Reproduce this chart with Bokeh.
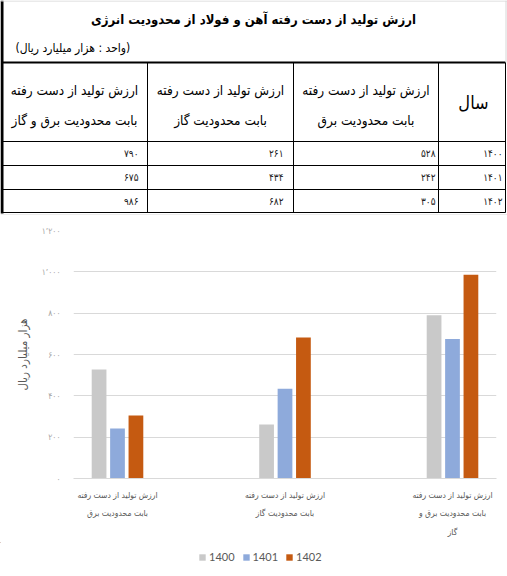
from bokeh.plotting import figure
from bokeh.models import Range1d, FixedTicker, Legend, LegendItem
from bokeh.core.properties import value
from bokeh.embed import file_html
from bokeh.resources import INLINE

# ---------------- data ----------------
title_text = "ارزش تولید از دست رفته آهن و فولاد از محدودیت انرژی"
unit_text = "(واحد : هزار میلیارد ریال)"
year_header = "سال"
years = ["1400", "1401", "1402"]
col_header_line1 = ["ارزش تولید از دست رفته", "ارزش تولید از دست رفته", "ارزش تولید از دست رفته"]
col_header_line2 = ["بابت محدودیت برق", "بابت محدودیت گاز", "بابت محدودیت برق و گاز"]
chart_labels = [
    "ارزش تولید از دست رفته\nبابت محدودیت برق",
    "ارزش تولید از دست رفته\nبابت محدودیت گاز",
    "ارزش تولید از دست رفته\nبابت محدودیت برق و\nگاز",
]
loss_1400 = [528, 261, 790]
loss_1401 = [242, 434, 675]
loss_1402 = [305, 682, 986]
y_ticks = [0, 200, 400, 600, 800, 1000, 1200]
y_tick_labels = ["۰", "۲۰۰", "۴۰۰", "۶۰۰", "۸۰۰", "۱٬۰۰۰", "۱٬۲۰۰"]
y_title = "هزار میلیارد ریال"
series_colors = ["#c9c9c9", "#8eaadb", "#c55a11"]

FA = str.maketrans("0123456789", "۰۱۲۳۴۵۶۷۸۹")
def fa(v):
    return str(v).translate(FA)

FONT_NAME = "'DejaVu Sans Condensed', 'DejaVu Sans'"
FONT = value(FONT_NAME)

# ---------------- layout constants (page pixels) ----------------
W = 507
TABLE_H = 215
CHART_BOTTOM = 542
LEG_H = 576 - CHART_BOTTOM
CH = CHART_BOTTOM - TABLE_H

# ---------------- table figure ----------------
t = figure(width=W, height=TABLE_H, x_range=Range1d(0, W), y_range=Range1d(TABLE_H, 0),
           output_backend="svg", toolbar_location=None,
           min_border_left=0, min_border_right=0, min_border_top=0, min_border_bottom=0,
           x_axis_location=None, y_axis_location=None)
t.grid.visible = False
t.outline_line_color = None

col_edges = [1, 147, 293, 438, 505]
row_edges = [62, 141, 165, 189, 212]
t.segment(x0=[col_edges[0]] * len(row_edges), x1=[col_edges[-1]] * len(row_edges),
          y0=row_edges, y1=row_edges, line_color="black", line_width=1)
t.segment(x0=[col_edges[0]], x1=[col_edges[-1]], y0=[62], y1=[62], line_color="black", line_width=2)
t.segment(x0=col_edges, x1=col_edges, y0=[row_edges[0]] * len(col_edges),
          y1=[row_edges[-1]] * len(col_edges), line_color="black", line_width=1)
t.segment(x0=[1.5], x1=[1.5], y0=[0], y1=[213], line_color="black", line_width=3)
t.segment(x0=[0, 505.5, 0], x1=[507, 505.5, 507], y0=[0.5, 0, 214.5], y1=[0.5, 62, 214.5],
          line_color="#d6d6d6", line_width=1)

t.text(x=[253], y=[19], text=[title_text], text_font=FONT, text_font_style="bold",
       text_font_size="13px", text_align="center", text_baseline="middle", text_color="black")
t.text(x=[15], y=[47], text=[unit_text], text_font=FONT, text_font_size="12px",
       text_align="left", text_baseline="middle", text_color="black")

t.text(x=[473], y=[102], text=[year_header], text_font=FONT, text_font_size="18px",
       text_align="center", text_baseline="middle", text_color="black")
cat_centers = [(col_edges[3] + col_edges[2]) / 2, (col_edges[2] + col_edges[1]) / 2,
               (col_edges[1] + col_edges[0]) / 2]
t.text(x=cat_centers, y=[89] * 3, text=col_header_line1, text_font=FONT, text_font_size="13.5px",
       text_align="center", text_baseline="middle", text_color="black")
t.text(x=cat_centers, y=[119] * 3, text=col_header_line2, text_font=FONT, text_font_size="13.5px",
       text_align="center", text_baseline="middle", text_color="black")

row_centers = [(row_edges[i] + row_edges[i + 1]) / 2 for i in range(1, 4)]
series = [loss_1400, loss_1401, loss_1402]
t.text(x=[col_edges[4] - 3] * 3, y=row_centers, text=[fa(y) for y in years], text_font=FONT,
       text_font_size="10px", text_align="right", text_baseline="middle", text_color="#222222")
cat_right = [col_edges[3] - 3, col_edges[2] - 10, col_edges[1] - 9]
for ci in range(3):
    t.text(x=[cat_right[ci]] * 3, y=row_centers, text=[fa(s[ci]) for s in series], text_font=FONT,
           text_font_size="10px", text_align="right", text_baseline="middle", text_color="#222222")

# ---------------- chart figure ----------------
frame_left, frame_right = 73, 496
frame_top, frame_bottom = 230 - TABLE_H, 478 - TABLE_H

c = figure(width=W, height=CH, x_range=Range1d(-0.2627, 2.2627), y_range=Range1d(0, 1200),
           output_backend="svg", toolbar_location=None,
           min_border_left=frame_left, min_border_right=W - frame_right,
           min_border_top=frame_top, min_border_bottom=CH - frame_bottom)
c.outline_line_color = None
c.xgrid.visible = False
c.ygrid.ticker = FixedTicker(ticks=y_ticks)
c.ygrid.grid_line_color = "#d9d9d9"

offsets = [-0.11, 0.0, 0.11]
bar_width = 0.088
renderers = []
for si, s in enumerate(series):
    xs = [i + offsets[si] for i in range(len(s))]
    r = c.vbar(x=xs, top=s, width=bar_width, fill_color=series_colors[si], line_color=None)
    renderers.append(r)

c.yaxis.ticker = FixedTicker(ticks=y_ticks)
c.yaxis.major_label_overrides = {k: v for k, v in zip(y_ticks, y_tick_labels)}
c.yaxis.axis_line_color = None
c.yaxis.major_tick_line_color = None
c.yaxis.minor_tick_line_color = None
c.yaxis.major_label_text_font = FONT_NAME
c.yaxis.major_label_text_font_size = "8.5px"
c.yaxis.major_label_text_color = "#a6a6a6"
c.yaxis.major_label_standoff = 7
c.yaxis.axis_label = y_title
c.yaxis.axis_label_text_font = FONT_NAME
c.yaxis.axis_label_text_font_size = "11.5px"
c.yaxis.axis_label_text_font_style = "normal"
c.yaxis.axis_label_text_color = "#595959"
c.yaxis.axis_label_standoff = 9

c.xaxis.ticker = FixedTicker(ticks=[0, 1, 2])
c.xaxis.major_label_overrides = {i: lab for i, lab in enumerate(chart_labels)}
c.xaxis.axis_line_color = "#d9d9d9"
c.xaxis.major_tick_line_color = None
c.xaxis.minor_tick_line_color = None
c.xaxis.major_label_text_font = FONT_NAME
c.xaxis.major_label_text_font_size = "8.5px"
c.xaxis.major_label_text_color = "#595959"
c.xaxis.major_label_text_line_height = 1.85
c.xaxis.major_label_standoff = 5

# ---------------- legend strip ----------------
lg = figure(width=W, height=LEG_H, x_range=Range1d(1000, 1001), y_range=Range1d(-2000, -1999),
            output_backend="svg", toolbar_location=None,
            min_border_left=0, min_border_right=0, min_border_top=0, min_border_bottom=0,
            x_axis_location=None, y_axis_location=None)
lg.grid.visible = False
lg.outline_line_color = None
leg_renderers = []
for si, s in enumerate(series):
    xs = [i + offsets[si] for i in range(len(s))]
    leg_renderers.append(lg.vbar(x=xs, top=s, width=bar_width, fill_color=series_colors[si],
                                 line_color=None))
legend = Legend(items=[LegendItem(label=y, renderers=[r]) for y, r in zip(years, leg_renderers)],
                orientation="horizontal", location=(198, 13),
                border_line_color=None, background_fill_alpha=0, padding=0, margin=0,
                spacing=7, glyph_width=8, glyph_height=8, label_standoff=3, label_height=12,
                label_text_font="Lato", label_text_font_size="11px", label_text_color="#595959")
lg.add_layout(legend)

open("out.html", "w").write(file_html([t, c, lg], INLINE))
